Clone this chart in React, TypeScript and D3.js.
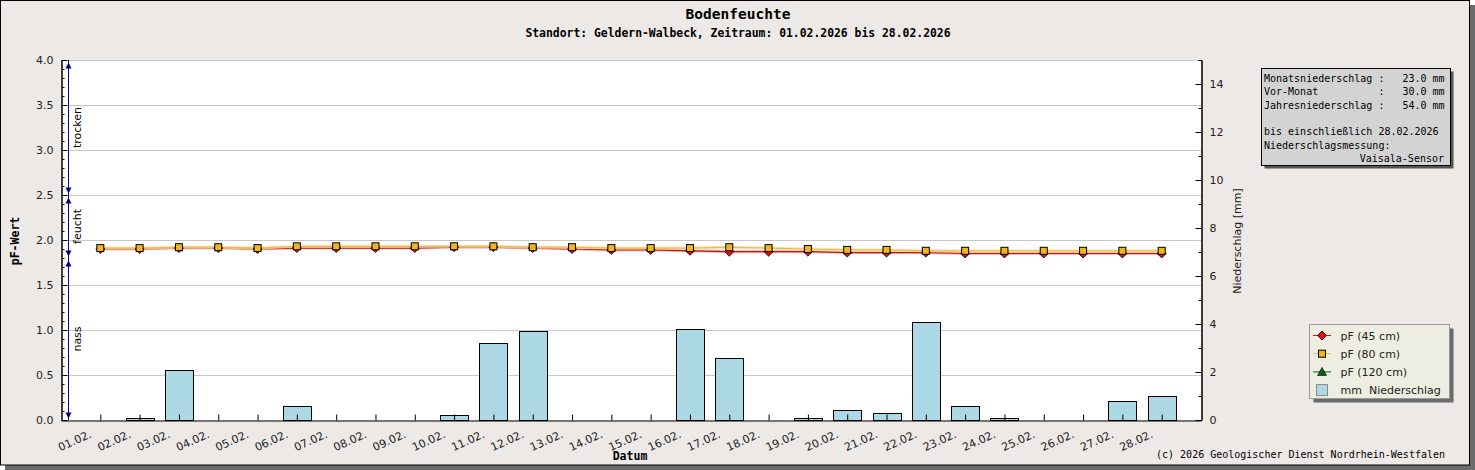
import React, { useRef, useEffect } from "react"
import * as d3 from "d3"

const days = [
  "01.02.", "02.02.", "03.02.", "04.02.", "05.02.", "06.02.", "07.02.",
  "08.02.", "09.02.", "10.02.", "11.02.", "12.02.", "13.02.", "14.02.",
  "15.02.", "16.02.", "17.02.", "18.02.", "19.02.", "20.02.", "21.02.",
  "22.02.", "23.02.", "24.02.", "25.02.", "26.02.", "27.02.", "28.02.",
]

// Niederschlag in mm (rechte Achse)
const rain = [
  0, 0.1, 2.1, 0, 0, 0.6, 0, 0, 0, 0.2, 3.2, 3.7, 0, 0,
  0, 3.8, 2.6, 0, 0.1, 0.4, 0.3, 4.1, 0.6, 0.1, 0, 0, 0.8, 1.0,
]

// pF-Werte (linke Achse)
const pf45 = [
  1.9, 1.9, 1.91, 1.91, 1.9, 1.91, 1.91, 1.91, 1.91, 1.92, 1.92, 1.91, 1.9, 1.89,
  1.89, 1.88, 1.87, 1.87, 1.87, 1.86, 1.86, 1.86, 1.85, 1.85, 1.85, 1.85, 1.85, 1.85,
]
const pf80 = [
  1.91, 1.91, 1.92, 1.92, 1.91, 1.93, 1.93, 1.93, 1.93, 1.93, 1.93, 1.92, 1.92, 1.91,
  1.91, 1.91, 1.92, 1.91, 1.9, 1.89, 1.89, 1.88, 1.88, 1.88, 1.88, 1.88, 1.88, 1.88,
]

const leftTicks = [0, 0.5, 1, 1.5, 2, 2.5, 3, 3.5, 4]
const rightTicks = [0, 2, 4, 6, 8, 10, 12, 14]

const zones = [
  { label: "trocken", from: 4.0, to: 2.5 },
  { label: "feucht", from: 2.5, to: 1.8 },
  { label: "nass", from: 1.8, to: 0 },
]

const infoLines = [
  "Monatsniederschlag :   23.0 mm",
  "Vor-Monat          :   30.0 mm",
  "Jahresniederschlag :   54.0 mm",
  "",
  "bis einschließlich 28.02.2026",
  "Niederschlagsmessung:",
]
const infoLast = "Vaisala-Sensor"

const legendItems = ["pF (45 cm)", "pF (80 cm)", "pF (120 cm)", "mm  Niederschlag"]

const W = 1475
const H = 470
const SANS = "DejaVu Sans, sans-serif"
const MONO = "DejaVu Sans Mono, monospace"

const diamond = (r: number) => `M0,${-r}L${r},0L0,${r}L${-r},0Z`
const triangle = (r: number) => `M0,${-r}L${r},${r * 0.8}L${-r},${r * 0.8}Z`

const App: React.FC = () => {
  const svgRef = useRef<SVGSVGElement>(null)

  useEffect(() => {
    if (!svgRef.current) return
    const svg = d3.select(svgRef.current)
    svg.selectAll("*").remove()

    const left = 61
    const right = 1201
    const top = 60
    const bottom = 420

    const x = d3.scaleLinear().domain([0, days.length + 1]).range([left, right])
    const yL = d3.scaleLinear().domain([0, 4]).range([bottom, top])
    const yR = d3.scaleLinear().domain([0, 15]).range([bottom, top])

    // frame
    svg.append("rect").attr("x", 5).attr("y", 5).attr("width", W - 5).attr("height", H - 5).attr("fill", "#6b6b6b")
    svg.append("rect").attr("x", 0.5).attr("y", 0.5).attr("width", 1469).attr("height", 464.5)
      .attr("fill", "#ECE9E7").attr("stroke", "#000")

    // titles
    svg.append("text").attr("x", 738).attr("y", 19).attr("text-anchor", "middle")
      .attr("font-family", MONO).attr("font-weight", "bold").attr("font-size", 14.5).text("Bodenfeuchte")
    svg.append("text").attr("x", 738).attr("y", 37).attr("text-anchor", "middle")
      .attr("font-family", MONO).attr("font-weight", "bold").attr("font-size", 11.4)
      .text("Standort: Geldern-Walbeck, Zeitraum: 01.02.2026 bis 28.02.2026")

    // plot area
    svg.append("rect").attr("x", left).attr("y", top).attr("width", right - left).attr("height", bottom - top).attr("fill", "#fff")

    svg.append("g").selectAll("line").data(leftTicks.filter((d) => d > 0)).enter().append("line")
      .attr("x1", left).attr("x2", right)
      .attr("y1", (d) => Math.round(yL(d)) + 0.5).attr("y2", (d) => Math.round(yL(d)) + 0.5)
      .attr("stroke", "#c8c8c8")

    // bars
    const barW = (x(1) - x(0)) * 0.71
    svg.append("g").selectAll("rect").data(rain.map((v, i) => ({ v, i })).filter((d) => d.v > 0)).enter().append("rect")
      .attr("x", (d) => Math.round(x(d.i + 1) - barW / 2) + 0.5)
      .attr("y", (d) => Math.round(yR(d.v)) + 0.5)
      .attr("width", Math.round(barW))
      .attr("height", (d) => bottom - Math.round(yR(d.v)))
      .attr("fill", "#ADD8E6").attr("stroke", "#000")

    // axes
    const styleAxis = (g: d3.Selection<SVGGElement, unknown, null, undefined>) => {
      g.selectAll("text").attr("font-family", SANS).attr("font-size", 11).attr("fill", "#222")
      g.selectAll("line, path").attr("stroke", "#000")
    }

    const minorL = d3.range(0, 4.001, 0.1)
    svg.append("g").attr("transform", `translate(${left + 0.5},0)`)
      .call(d3.axisLeft(yL).tickValues(minorL).tickSize(-3).tickFormat(() => ""))
      .call(styleAxis)
    svg.append("g").attr("transform", `translate(${left + 0.5},0)`)
      .call(d3.axisLeft(yL).tickValues(leftTicks).tickSizeInner(-6).tickSizeOuter(0).tickPadding(8).tickFormat(d3.format(".1f")))
      .call(styleAxis)

    const minorR = d3.range(1, 15.001, 2)
    svg.append("g").attr("transform", `translate(${right + 0.5},0)`)
      .call(d3.axisRight(yR).tickValues(minorR).tickSize(-3).tickFormat(() => ""))
      .call(styleAxis)
    svg.append("g").attr("transform", `translate(${right + 0.5},0)`)
      .call(d3.axisRight(yR).tickValues(rightTicks).tickSizeInner(-6).tickSizeOuter(0).tickPadding(8).tickFormat(d3.format("d")))
      .call(styleAxis)

    const xAxis = svg.append("g").attr("transform", `translate(0,${bottom + 0.5})`)
      .call(d3.axisBottom(x).tickValues(days.map((_, i) => i + 1)).tickSizeInner(-6).tickSizeOuter(0).tickFormat(() => ""))
      .call(styleAxis)
    xAxis.selectAll("text").remove()

    svg.append("g").selectAll("text").data(days).enter().append("text")
      .attr("transform", (_, i) => `translate(${x(i + 1) - 8},${bottom + 17}) rotate(-24)`)
      .attr("text-anchor", "end")
      .attr("font-family", SANS).attr("font-size", 11).attr("fill", "#222")
      .text((d) => d)

    // zone annotation
    const ax = left + 7.5
    svg.append("line").attr("x1", ax).attr("x2", ax).attr("y1", top).attr("y2", bottom).attr("stroke", "#000080")
    zones.forEach((z) => {
      const y0 = yL(z.from) + 2.5
      const y1 = yL(z.to) - 1.5
      svg.append("path").attr("d", `M${ax},${y0}L${ax + 3},${y0 + 6}L${ax - 3},${y0 + 6}Z`).attr("fill", "#000080")
      svg.append("path").attr("d", `M${ax},${y1}L${ax + 3},${y1 - 6}L${ax - 3},${y1 - 6}Z`).attr("fill", "#000080")
      svg.append("text")
        .attr("transform", `translate(${ax + 12},${(yL(z.from) + yL(z.to)) / 2}) rotate(-90)`)
        .attr("text-anchor", "middle")
        .attr("font-family", SANS).attr("font-size", 11).attr("fill", "#000")
        .text(z.label)
    })

    // lines
    const line = d3.line<number>().x((_, i) => x(i + 1)).y((d) => yL(d))
    const series = [
      { data: pf45, halo: "#f6a9a4", stroke: "#b81a1a" },
      { data: pf80, halo: "#fbe0a0", stroke: "#e9bd4e" },
    ]
    series.forEach((s) => {
      svg.append("path").attr("d", line(s.data)).attr("fill", "none").attr("stroke", s.halo).attr("stroke-width", 3).attr("opacity", 0.8)
      svg.append("path").attr("d", line(s.data)).attr("fill", "none").attr("stroke", s.stroke).attr("stroke-width", 1.2)
    })

    svg.append("g").selectAll("path").data(pf45).enter().append("path")
      .attr("transform", (d, i) => `translate(${x(i + 1)},${yL(d)})`)
      .attr("d", diamond(4.5)).attr("fill", "#dd1111").attr("stroke", "#000").attr("stroke-width", 0.8)
    svg.append("g").selectAll("rect").data(pf80).enter().append("rect")
      .attr("x", (_, i) => x(i + 1) - 3.5).attr("y", (d) => yL(d) - 3.5)
      .attr("width", 7).attr("height", 7)
      .attr("fill", "#f4b41c").attr("stroke", "#000").attr("stroke-width", 1)

    // axis titles
    svg.append("text").attr("transform", `translate(19,241) rotate(-90)`).attr("text-anchor", "middle")
      .attr("font-family", MONO).attr("font-weight", "bold").attr("font-size", 11.5).text("pF-Wert")
    svg.append("text").attr("transform", `translate(1241,241) rotate(-90)`).attr("text-anchor", "middle")
      .attr("font-family", SANS).attr("font-size", 11).attr("fill", "#222").text("Niederschlag [mm]")
    svg.append("text").attr("x", 630).attr("y", 460).attr("text-anchor", "middle")
      .attr("font-family", MONO).attr("font-weight", "bold").attr("font-size", 11.5).text("Datum")

    // info box
    svg.append("rect").attr("x", 1264.5).attr("y", 71.5).attr("width", 189).attr("height", 97).attr("fill", "#555")
    svg.append("rect").attr("x", 1261.5).attr("y", 68.5).attr("width", 189).attr("height", 97).attr("fill", "#d3d3d3").attr("stroke", "#000")
    svg.append("g").selectAll("text").data(infoLines).enter().append("text")
      .attr("x", 1264).attr("y", (_, i) => 82 + i * 13.3)
      .attr("font-family", MONO).attr("font-size", 10).attr("xml:space", "preserve").style("white-space", "pre")
      .text((d) => d)
    svg.append("text").attr("x", 1444).attr("y", 82 + 6 * 13.3).attr("text-anchor", "end")
      .attr("font-family", MONO).attr("font-size", 10).text(infoLast)

    // legend
    svg.append("rect").attr("x", 1313.5).attr("y", 328.5).attr("width", 140).attr("height", 74).attr("fill", "#6b6b6b")
    svg.append("rect").attr("x", 1309.5).attr("y", 324.5).attr("width", 140).attr("height", 74).attr("fill", "#EDEDE1").attr("stroke", "#999")
    const lx = 1322
    legendItems.forEach((label, i) => {
      const ly = 335.5 + i * 18.2
      const g = svg.append("g")
      if (i === 0) {
        g.append("line").attr("x1", lx - 9).attr("x2", lx + 9).attr("y1", ly).attr("y2", ly).attr("stroke", "#dd1111")
        g.append("path").attr("transform", `translate(${lx},${ly})`).attr("d", diamond(4.5)).attr("fill", "#dd1111").attr("stroke", "#000").attr("stroke-width", 0.8)
      } else if (i === 1) {
        g.append("line").attr("x1", lx - 9).attr("x2", lx + 9).attr("y1", ly).attr("y2", ly).attr("stroke", "#e9bd4e")
        g.append("rect").attr("x", lx - 3.5).attr("y", ly - 3.5).attr("width", 7).attr("height", 7).attr("fill", "#f4b41c").attr("stroke", "#000")
      } else if (i === 2) {
        g.append("line").attr("x1", lx - 9).attr("x2", lx + 9).attr("y1", ly).attr("y2", ly).attr("stroke", "#0d5e0d")
        g.append("path").attr("transform", `translate(${lx},${ly})`).attr("d", triangle(4.5)).attr("fill", "#0d5e0d").attr("stroke", "#000").attr("stroke-width", 0.6)
      } else {
        g.append("rect").attr("x", lx - 5.5).attr("y", ly - 5.5).attr("width", 11).attr("height", 11).attr("fill", "#ADD8E6").attr("stroke", "#888")
      }
      g.append("text").attr("x", 1340.5).attr("y", ly + 4)
        .attr("font-family", SANS).attr("font-size", 11).attr("fill", "#222")
        .attr("xml:space", "preserve").style("white-space", "pre").text(label)
    })

    // copyright
    svg.append("text").attr("x", 1445).attr("y", 458).attr("text-anchor", "end")
      .attr("font-family", MONO).attr("font-size", 10).text("(c) 2026 Geologischer Dienst Nordrhein-Westfalen")
  }, [])

  return (
    <div style={{ position: "absolute", left: 0, top: 0 }}>
      <svg ref={svgRef} width={W} height={H} style={{ display: "block" }} />
    </div>
  )
}

export default App
